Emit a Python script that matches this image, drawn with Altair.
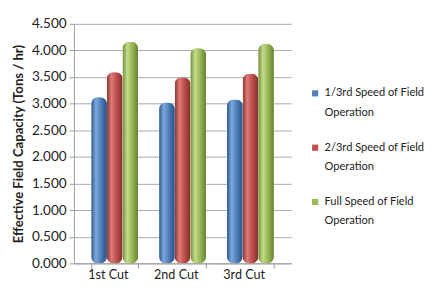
import altair as alt
import pandas as pd

cuts = ["1st Cut", "2nd Cut", "3rd Cut"]
series = ["1/3rd Speed of Field Operation", "2/3rd Speed of Field Operation", "Full Speed of Field Operation"]
colors = ["#4F81BD", "#C0504D", "#9BBB59"]
shades = [
    ["#2F5A8F", "#7FA7DA", "#4F81BD", "#2A5282"],
    ["#8E3431", "#DB7C79", "#C0504D", "#832F2C"],
    ["#6F8C38", "#C3DB8E", "#9BBB59", "#668232"],
]
values = {
    series[0]: [3.12, 3.02, 3.08],
    series[1]: [3.59, 3.49, 3.56],
    series[2]: [4.16, 4.04, 4.12],
}

rows = []
for s in series:
    for c, v in zip(cuts, values[s]):
        rows.append({"cut": c, "series": s, "value": v})
df = pd.DataFrame(rows)

x_enc = alt.X("cut:N", sort=cuts, title=None,
              scale=alt.Scale(domain=cuts, paddingInner=0.31, paddingOuter=0.255, align=0.5),
              axis=alt.Axis(labelAngle=0, labelFontSize=13, labelColor="#222", domainColor="#999",
                            tickColor="#999", labelPadding=1, grid=False, tickBand="extent",
                            labelOffset=-7, labelLineHeight=13))
xo_enc = alt.XOffset("series:N", sort=series, scale=alt.Scale(domain=series, paddingInner=0))
y_enc = alt.Y("value:Q", title="Effective Field Capacity (Tons / hr)",
              scale=alt.Scale(domain=[0, 4.5]),
              axis=alt.Axis(values=[i * 0.5 for i in range(10)], format=".3f",
                            labelFontSize=14, labelColor="#222", titleFontSize=13.5, titleFontWeight="bold",
                            titleColor="#222", domainColor="#999", tickColor="#999", tickSize=5,
                            labelPadding=3, gridColor="#A8A8A8", titlePadding=6, labelLineHeight=14))

base = alt.Chart(df).mark_bar(cornerRadiusTopLeft=7, cornerRadiusTopRight=7,
                              cornerRadiusBottomLeft=7, cornerRadiusBottomRight=7).encode(
    x=x_enc, xOffset=xo_enc, y=y_enc,
    color=alt.Color("series:N", sort=series,
                    scale=alt.Scale(domain=series, range=colors),
                    legend=alt.Legend(title=None, symbolType="square", symbolSize=40,
                                      symbolStrokeWidth=0,
                                      labelFontSize=11.4, labelColor="#222",
                                      labelExpr="[slice(datum.label, 0, indexof(datum.label, ' Operation')), 'Operation']",
                                      rowPadding=23, labelLimit=200, labelOffset=4,
                                      orient="none", legendX=243, legendY=66)),
)

layers = [base]
for s, sh in zip(series, shades):
    grad = alt.Gradient(gradient="linear", x1=0, x2=1, y1=0, y2=0,
                        stops=[alt.GradientStop(color=sh[0], offset=0),
                               alt.GradientStop(color=sh[1], offset=0.3),
                               alt.GradientStop(color=sh[2], offset=0.6),
                               alt.GradientStop(color=sh[3], offset=1)])
    layers.append(
        alt.Chart(df).transform_filter(alt.datum.series == s).mark_bar(
            fill=grad, cornerRadiusTopLeft=7, cornerRadiusTopRight=7,
            cornerRadiusBottomLeft=7, cornerRadiusBottomRight=7).encode(
            x=x_enc, xOffset=xo_enc, y=y_enc)
    )

chart = alt.layer(*layers).properties(width=224, height=247)

chart = chart.configure(font="Lato", style={"guide-label": {"lineHeight": 20}}).configure_view(stroke=None).properties(
    padding={"left": 4, "top": 5, "right": 0, "bottom": 0}
)

chart.save("out.html", embed_options={"renderer": "svg", "actions": False})
